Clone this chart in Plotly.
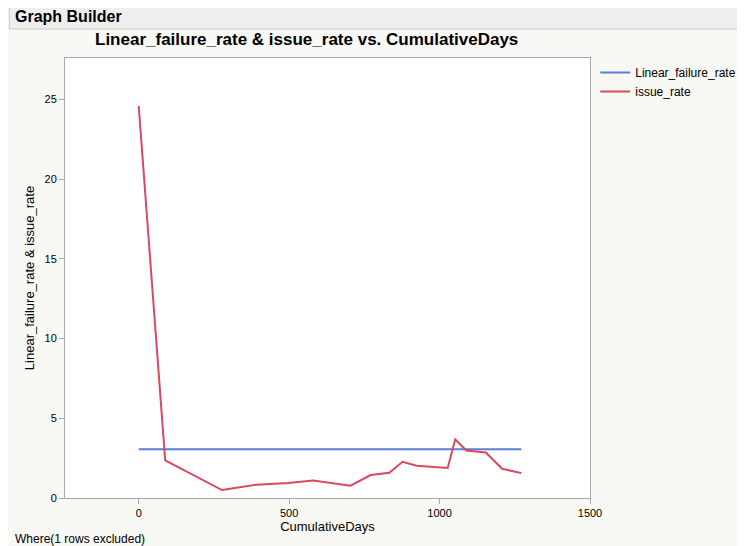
import plotly.graph_objects as go

days = [0, 88, 277, 391, 497, 580, 704, 771, 833, 877, 924, 1027, 1052, 1089, 1154, 1208, 1272]
issue_rate = [24.6, 2.36, 0.5, 0.83, 0.94, 1.1, 0.77, 1.44, 1.58, 2.27, 2.02, 1.88, 3.67, 2.98, 2.85, 1.83, 1.56]
linear_failure_rate = [3.06] * len(days)

fig = go.Figure()
fig.add_trace(go.Scatter(x=days, y=linear_failure_rate, mode="lines", name="Linear_failure_rate",
                         line=dict(color="#5b7fd6", width=2)))
fig.add_trace(go.Scatter(x=days, y=issue_rate, mode="lines", name="issue_rate",
                         line=dict(color="#d9495f", width=2)))

fig.update_layout(
    width=745, height=546,
    paper_bgcolor="#f8f8f5", plot_bgcolor="white",
    font=dict(family="Liberation Sans, Arial", size=11, color="black"),
    margin=dict(l=57, r=163, t=50, b=56),
    showlegend=True,
    legend=dict(x=1.01, y=1.0, xanchor="left", yanchor="top", bgcolor="rgba(0,0,0,0)",
                font=dict(size=12), tracegroupgap=0),
    xaxis=dict(title=dict(text="CumulativeDays", standoff=2), range=[-245, 1500],
               tickvals=[0, 500, 1000, 1500], ticks="outside", ticklen=5, tickcolor="#aaa",
               showgrid=False, zeroline=False, showline=True, linecolor="#aaa", mirror=True),
    yaxis=dict(title=dict(text="Linear_failure_rate & issue_rate", standoff=6), range=[0, 27.6],
               tickvals=[0, 5, 10, 15, 20, 25], ticks="outside", ticklen=5, tickcolor="#aaa",
               showgrid=False, zeroline=False, showline=True, linecolor="#aaa", mirror=True),
    shapes=[dict(type="rect", xref="paper", yref="paper", x0=-0.106, x1=1.31,
                 y0=1.066, y1=1.124, line=dict(color="#ccc", width=1),
                 fillcolor="#eeeeee", layer="below")],
    annotations=[
        dict(text="<b>Graph Builder</b>", xref="paper", yref="paper", x=-0.1, y=1.095,
             xanchor="left", yanchor="middle", showarrow=False, font=dict(size=16)),
        dict(text="<b>Linear_failure_rate & issue_rate vs. CumulativeDays</b>", xref="paper",
             yref="paper", x=0.46, y=1.041, xanchor="center", yanchor="middle",
             showarrow=False, font=dict(size=17)),
        dict(text="Where(1 rows excluded)", xref="paper", yref="paper", x=-0.1, y=-0.093,
             xanchor="left", yanchor="middle", showarrow=False, font=dict(size=12)),
    ],
)
fig.write_html("out.html")
